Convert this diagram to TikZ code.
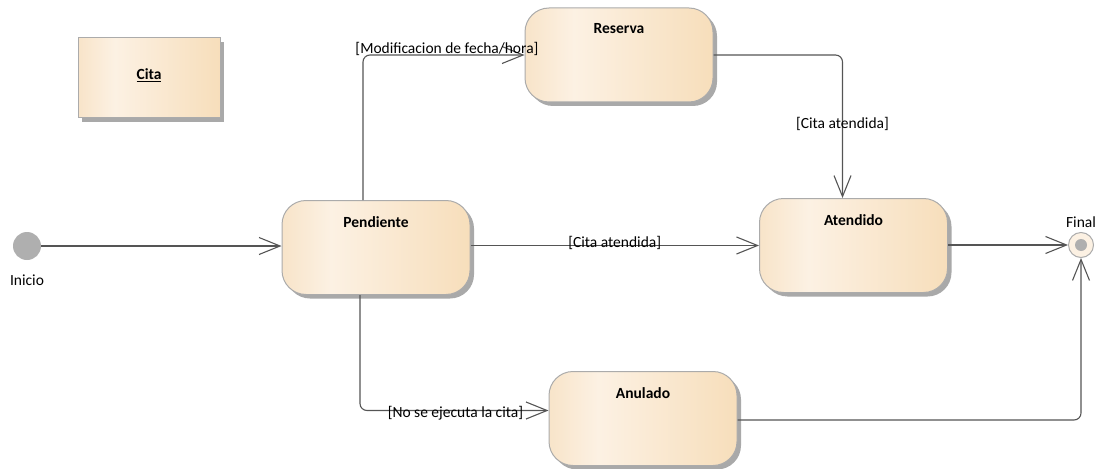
\documentclass[tikz,border=0pt]{standalone}
\usepackage{fontspec}
\setmainfont{Carlito}
\usetikzlibrary{arrows.meta}
\usetikzlibrary{shadows}
\definecolor{stateleft}{HTML}{F8E4C9}
\definecolor{statemid}{HTML}{FCF1E3}
\definecolor{stateright}{HTML}{F7DEBB}
\definecolor{stateborder}{HTML}{ABABAB}
\definecolor{shadowgray}{HTML}{A9A9A9}
\definecolor{linegray}{HTML}{555555}
\definecolor{initgray}{HTML}{AFAFAF}
\pgfdeclarehorizontalshading{statefill}{100bp}{color(0bp)=(stateleft); color(25bp)=(stateleft); color(38bp)=(statemid); color(75bp)=(stateright); color(100bp)=(stateright)}

\begin{document}
\begin{tikzpicture}[x=1pt,y=-1pt,
    stateshape/.style={draw=stateborder,line width=1pt,shading=statefill,
      drop shadow={shadow xshift=4pt,shadow yshift=-4pt,fill=shadowgray,opacity=1}},
    state/.style={stateshape,rounded corners=24pt,minimum width=188pt,minimum height=94pt},
    statename/.style={font=\fontsize{15.5}{17}\selectfont\bfseries,anchor=north,inner sep=0pt,yshift=-16pt},
    conn/.style={draw=linegray,line width=1.1pt,rounded corners=7pt},
    trans/.style={conn,-{Straight Barb[length=21pt,width=17pt,line width=1.1pt]}},
    guard/.style={font=\fontsize{15.5}{17}\selectfont,inner sep=0pt},
    pseudo/.style={font=\fontsize{15.5}{17}\selectfont}]
  \useasboundingbox (0,0) rectangle (1107,468);

  \node[stateshape,minimum width=142pt,minimum height=80pt] (cita) at (149,78)
    {\raisebox{7pt}{\fontsize{15.5}{17}\selectfont\bfseries\underline{Cita}}};

  \node[circle,fill=initgray,minimum size=28pt,inner sep=0pt,
    label={[pseudo,label distance=11pt]below:Inicio}] (ini) at (27,246) {};
  \node[circle,draw=stateborder,line width=1pt,fill=statemid,minimum size=25pt,inner sep=0pt,
    path picture={\fill[initgray] (path picture bounding box.center) circle (6pt);},
    label={[pseudo,label distance=1pt]above:Final}] (fin) at (1081,245) {};

  \node[state,label={[statename]north:Pendiente}] (pend) at (376,247.5) {};
  \node[state,label={[statename]north:Reserva}] (res) at (619,55) {};
  \node[state,label={[statename]north:Atendido}] (aten) at (853.5,245.5) {};
  \node[state,label={[statename]north:Anulado}] (anul) at (643,418.5) {};

  \draw[trans] (ini) -- (ini -| pend.west);
  \draw[trans] ([xshift=-13pt]pend.north) |- (res.west)
    node[guard,pos=0.76,above=-1pt] {[Modificacion de fecha/hora]};
  \draw[trans] (res.east) -| ([xshift=-11pt]aten.north)
    node[guard,pos=0.74] {[Cita atendida]};
  \draw[trans] (pend.east |- aten.west) -- (aten.west)
    node[guard,midway,above=-5pt] {[Cita atendida]};
  \draw[trans] ([xshift=-16pt]pend.south) |- ([yshift=8pt]anul.west)
    node[guard,pos=0.753,above=-10pt] {[No se ejecuta la cita]};
  \draw[trans] (aten.east |- fin) -- (fin.west);
  \draw[trans] ([yshift=-1.5pt]anul.east) -| (fin.south);
\end{tikzpicture}
\end{document}
